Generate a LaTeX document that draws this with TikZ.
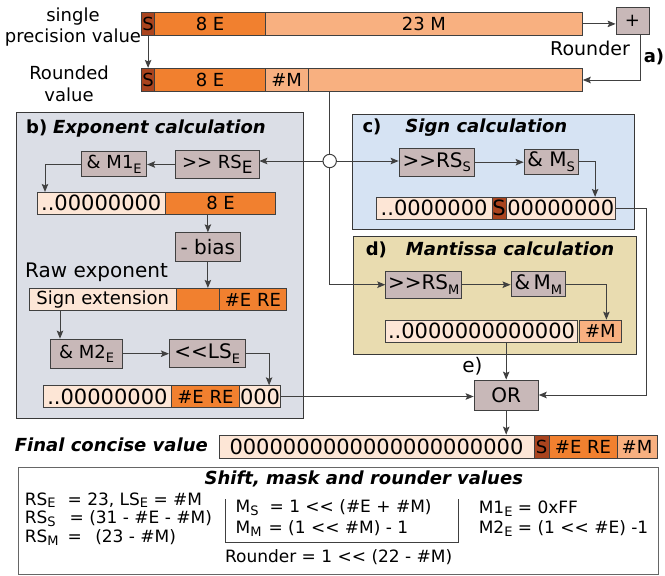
\documentclass[tikz,border=0pt]{standalone}
\usepackage{fontspec}
\setmainfont{DejaVu Sans}
\usepackage{tikz}
\usetikzlibrary{arrows.meta}
\definecolor{signColor}{HTML}{AA441E}
\definecolor{expColor}{HTML}{F1802F}
\definecolor{manColor}{HTML}{F8B080}
\definecolor{zeroColor}{HTML}{FDE6D6}
\definecolor{opColor}{HTML}{C8B8B8}
\definecolor{expPanel}{HTML}{DBDEE6}
\definecolor{signPanel}{HTML}{D6E3F3}
\definecolor{manPanel}{HTML}{E9DCB0}
\definecolor{lineColor}{HTML}{404040}
\definecolor{frameColor}{HTML}{383838}
\newcommand{\fsz}[1]{\fontsize{#1}{#1}\selectfont}
\newcommand{\sbs}[1]{\raisebox{-0.45ex}{\fsz{13}#1}}
\newcommand{\lsbs}[1]{\raisebox{-0.3ex}{\fsz{13}#1}}

\begin{document}
\begin{tikzpicture}[x=1pt, y=-1pt,
    every node/.style={font=\fsz{18}},
    fld/.style={draw=lineColor, line width=0.8pt, inner sep=0pt, anchor=west},
    opbox/.style={draw=lineColor, fill=opColor, line width=0.8pt, inner sep=0pt},
    panel/.style={draw=frameColor, line width=1.1pt, anchor=north west, inner sep=0pt},
    legline/.style={anchor=west, inner sep=0pt, font=\fsz{17}},
    conn/.style={draw=lineColor, line width=1pt, -{Stealth[length=8pt,width=6.5pt,inset=1.5pt]}},
    wire/.style={draw=lineColor, line width=1pt}]
    \useasboundingbox (0,0) rectangle (665,576);

    % panels
    \node[panel, fill=expPanel, minimum width=287.3, minimum height=306] (panb) at (15.7,112.3) {};
    \node[panel, fill=signPanel, minimum width=282, minimum height=115] (panc) at (352.3,114.3) {};
    \node[panel, fill=manPanel, minimum width=283, minimum height=118.3] (pand) at (352.7,235.7) {};
    \node[panel, draw=gray!80!black, minimum width=639.8, minimum height=107.3] (legend) at (17.8,466.7) {};

    % a) input value and rounding
    \node[align=center, font=\fontsize{18}{21}\selectfont] (splbl) at (73,27.5) {single\\precision value};
    \node[fld, fill=signColor, minimum width=13.4, minimum height=22.3] (s1) at (141,23.9) {S};
    \node[fld, fill=expColor, minimum width=110.6, minimum height=22.3] (e1) at (154.4,23.9) {8 E};
    \node[fld, fill=manColor, minimum width=317, minimum height=22.3] (m1) at (265,23.9) {23 M};
    \node[opbox, minimum width=33, minimum height=27.4] (plus) at (632.5,21) {+};
    \node[font=\fsz{19}] (rndlbl) at (590,48) {Rounder};
    \node[font=\bfseries\fsz{18}] (albl) at (654,57) {a)};
    \node[align=center, font=\fontsize{18}{22}\selectfont] (rvlbl) at (69,84) {Rounded\\value};
    \node[fld, fill=signColor, minimum width=13.4, minimum height=23.4] (s2) at (141,80) {S};
    \node[fld, fill=expColor, minimum width=110.6, minimum height=23.4] (e2) at (154.4,80) {8 E};
    \node[fld, fill=manColor, minimum width=42.6, minimum height=23.4] (hm2) at (265,80) {\#M};
    \node[fld, fill=manColor, minimum width=274.4, minimum height=23.4] (r2) at (307.6,80) {};
    \draw[conn] (m1.east) -- (m1.east -| plus.west);
    \draw[conn] ([xshift=7.5]plus.south) |- (r2.east);
    \draw[conn] (s1.south) -- (s2.north);

    % b) exponent
    \node[anchor=west] (tb) at (22.7,128.3) {\textbf{b)} \textbf{\textit{Exponent calculation}}};
    \node[opbox, minimum width=83.3, minimum height=27.6] (rse) at (217.3,164.5) {>{}> RS\raisebox{-0.5ex}{\fsz{17}E}};
    \node[opbox, minimum width=65, minimum height=25] (mone) at (114.2,164.2) {\& M1\sbs{E}};
    \node[fld, fill=zeroColor, minimum width=128.3, minimum height=21.7, font=\fsz{21}] (zb1) at (36.7,203.2) {..00000000};
    \node[fld, fill=expColor, minimum width=110.3, minimum height=21.7] (eb1) at (165,203.2) {8 E};
    \node[opbox, minimum width=64.3, minimum height=29, font=\fsz{20}] (bias) at (207.9,247.2) {- bias};
    \node[anchor=west, font=\fsz{20}] (rawlbl) at (21.7,272.3) {Raw exponent};
    \node[fld, fill=zeroColor, minimum width=146.7, minimum height=22.4] (sext) at (29,299.5) {Sign extension};
    \node[fld, fill=expColor, minimum width=43.6, minimum height=22.4] (rb2) at (175.7,299.5) {};
    \node[fld, fill=expColor, minimum width=66.4, minimum height=22.4] (ereb2) at (219.3,299.5) {\#E RE};
    \node[opbox, minimum width=71.6, minimum height=29.3] (mtwo) at (86.5,353.7) {\& M2\sbs{E}};
    \node[opbox, minimum width=75.7, minimum height=28, font=\fsz{20}] (lse) at (207.2,353.3) {<{}<LS\sbs{E}};
    \node[fld, fill=zeroColor, minimum width=127.4, minimum height=21.6, font=\fsz{21}] (zb3) at (43.3,396.5) {..00000000};
    \node[fld, fill=expColor, minimum width=68.6, minimum height=21.6] (ereb3) at (170.7,396.5) {\#E RE};
    \node[fld, fill=zeroColor, minimum width=40.7, minimum height=21.6, font=\fsz{21}] (tzb) at (239.3,396.5) {000};
    \draw[conn] (rse.west) -- (rse.west -| mone.east);
    \draw[conn] (mone.west) -| ([xshift=8.3]zb1.north west);
    \draw[conn] (bias.north |- eb1.south) -- (bias.north);
    \draw[conn] (bias.south) -- (bias.south |- rb2.north);
    \draw[conn] ([xshift=31]sext.south west) -- ([xshift=31]sext.south west |- mtwo.north);
    \draw[conn] (mtwo.east) -- (mtwo.east -| lse.west);
    \draw[conn] (lse.east) -| ([xshift=-11.7]tzb.north east);

    % c) sign
    \node[anchor=west] (tc) at (359,127.7) {\textbf{c)}\hspace{24pt}\textbf{\textit{Sign calculation}}};
    \node[opbox, minimum width=75.3, minimum height=27.7, font=\fsz{20}] (rss) at (436.7,162.2) {>{}>RS\sbs{S}};
    \node[opbox, minimum width=54.3, minimum height=25.3, font=\fsz{20}] (ms) at (551.2,161.7) {\& M\sbs{S}};
    \node[fld, fill=zeroColor, minimum width=116, minimum height=22, font=\fsz{21}] (zc1) at (375.7,208.3) {..0000000\ };
    \node[fld, fill=signColor, minimum width=14, minimum height=22, font=\fsz{21}] (sc) at (491.7,208.3) {S};
    \node[fld, fill=zeroColor, minimum width=109.3, minimum height=22, font=\fsz{21}] (zc2) at (505.7,208.3) {00000000};
    \draw[conn] (rss.east) -- (rss.east -| ms.west);
    \draw[conn] (ms.east) -| ([xshift=-20.7]zc2.north east);

    % d) mantissa
    \node[anchor=west] (td) at (362.3,250) {\textbf{d)}\hspace{19pt}\textbf{\textit{Mantissa calculation}}};
    \node[opbox, minimum width=76, minimum height=27.3, font=\fsz{20}] (rsm) at (423.7,284.7) {>{}>RS\sbs{M}};
    \node[opbox, minimum width=54.7, minimum height=25, font=\fsz{20}] (mm) at (538.3,284.2) {\&\,M\sbs{M}};
    \node[fld, fill=zeroColor, minimum width=192.3, minimum height=22.3, font=\fsz{21}] (zd) at (385,331.2) {..0000000000000};
    \node[fld, fill=manColor, minimum width=41.4, minimum height=22.3] (hmd) at (579.3,331.2) {\#M};
    \draw[conn] (rsm.east) -- (rsm.east -| mm.west);
    \draw[conn] (mm.east) -| ([xshift=6]hmd.north);

    % junction of the rounded value
    \node[circle, draw=lineColor, fill=white, line width=1pt, minimum size=13.4, inner sep=0pt] (hub) at (329.7,161) {};
    \draw[wire] (hub.north |- r2.south) -- (hub.north);
    \draw[conn] (hub.west) -- (hub.west -| rse.east);
    \draw[conn] (hub.east) -- (hub.east -| rss.west);
    \draw[conn] (hub.south) |- (rsm.west);

    % e) merge
    \node[font=\fsz{20}] (elbl) at (472.5,366.7) {e)};
    \node[opbox, minimum width=64.3, minimum height=30, font=\fsz{20}] (orbox) at (506.2,395) {OR};
    \coordinate (rbend) at (646,0);
    \draw[conn] (orbox.north |- zd.south) -- (orbox.north);
    \draw[conn] (tzb.east) -- (tzb.east -| orbox.west);
    \draw[conn] (zc2.east) -- (zc2.east -| rbend) |- (orbox.east);

    % final value
    \node[anchor=east] (flbl) at (211.3,445) {\textbf{\textit{Final concise value}}};
    \node[fld, fill=zeroColor, minimum width=315.2, minimum height=23.3, font=\fsz{21}] (fz) at (218.5,446.7) {0000000000000000000000};
    \node[fld, fill=signColor, minimum width=14.9, minimum height=23.3] (fs) at (533.7,446.7) {S};
    \node[fld, fill=expColor, minimum width=67.9, minimum height=23.3] (fere) at (548.6,446.7) {\#E RE};
    \node[fld, fill=manColor, minimum width=40.3, minimum height=23.3] (fm) at (616.5,446.7) {\#M};
    \draw[conn] (orbox.south) -- (orbox.south |- fz.north);

    % shift, mask and rounder values
    \node (ltitle) at (363.8,479.3) {\textbf{\textit{Shift, mask and rounder values}}};
    \node[legline] (vrse) at (24.6,500.2) {RS\lsbs{E}\hspace{12pt}= 23, LS\lsbs{E} = \#M};
    \node[legline] (vrss) at (24.6,518.8) {RS\lsbs{S}\hspace{14pt}= (31 - \#E - \#M)};
    \node[legline] (vrsm) at (24.6,537.4) {RS\lsbs{M}\hspace{9pt}= \hspace{8pt}(23 - \#M)};
    \node[legline] (vms) at (235.5,507.3) {M\lsbs{S}\hspace{11pt}= 1 <{}< (\#E + \#M)};
    \node[legline] (vmm) at (235.5,528.3) {M\lsbs{M}\hspace{7pt}= (1 <{}< \#M) - 1};
    \draw[line width=0.8pt, draw=lineColor] (224.9,499.3) -- (224.9,542.7) -- (458.2,542.7) -- (458.2,499.3);
    \node[legline] (vrnd) at (224.9,556.7) {Rounder = 1 <{}< (22 - \#M)};
    \node[legline] (vmone) at (478.6,508.3) {M1\lsbs{E} = 0xFF};
    \node[legline] (vmtwo) at (478.6,528.3) {M2\lsbs{E} = (1 <{}< \#E) -1};
\end{tikzpicture}
\end{document}
